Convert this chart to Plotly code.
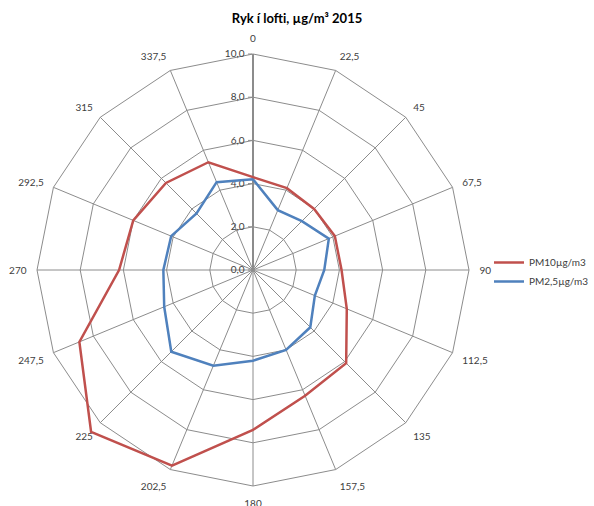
import plotly.graph_objects as go

directions = ["0", "22,5", "45", "67,5", "90", "112,5", "135", "157,5",
              "180", "202,5", "225", "247,5", "270", "292,5", "315", "337,5"]
pm10 = [4.3, 4.1, 4.0, 4.1, 4.1, 4.7, 6.1, 6.3, 7.4, 9.8, 10.6, 8.7, 6.2, 6.0, 5.7, 5.4]
pm25 = [4.2, 3.0, 3.2, 3.8, 3.3, 3.1, 3.75, 4.0, 4.2, 4.8, 5.35, 4.45, 4.15, 4.1, 3.7, 4.4]
radial_ticks = [0, 2, 4, 6, 8, 10]
radial_labels = ["0,0", "2,0", "4,0", "6,0", "8,0", "10,0"]

W, H = 594, 506
cx, cy, R = 253, 270, 216
RMAX = 10.0      # axis maximum shown by the grid
RDATA = 10.8     # range of the (invisible) data layer, so values above 10 are not clipped
R2 = R * RDATA / RMAX

def closed(v):
    return v + [v[0]]

def dom(rad):
    return dict(x=[(cx - rad) / W, (cx + rad) / W],
                y=[(H - cy - rad) / H, (H - cy + rad) / H])

fig = go.Figure()
# grid layer (needs a trace so that the subplot is drawn)
fig.add_trace(go.Scatterpolar(
    r=[0], theta=[directions[0]], mode="markers", subplot="polar",
    marker=dict(opacity=0), showlegend=False, hoverinfo="skip"))
fig.add_trace(go.Scatterpolar(
    r=closed(pm10), theta=closed(directions), mode="lines", subplot="polar2",
    name="PM10µg/m3", line=dict(color="#C0504D", width=2.5)))
fig.add_trace(go.Scatterpolar(
    r=closed(pm25), theta=closed(directions), mode="lines", subplot="polar2",
    name="PM2,5µg/m3", line=dict(color="#4F81BD", width=2.5)))

font = dict(family="Lato, Open Sans, sans-serif", size=10, color="#404040")
grid = "#8C8C8C"

angular_common = dict(direction="clockwise", rotation=90, type="category",
                      categoryorder="array", categoryarray=directions)

fig.update_layout(
    width=W, height=H,
    margin=dict(l=0, r=0, t=0, b=0),
    paper_bgcolor="white",
    font=font,
    title=dict(text="<b>Ryk í lofti, µg/m³ 2015</b>", x=0.5, xanchor="center",
               y=1 - 18 / H, yanchor="middle",
               font=dict(family="Lato, Open Sans, sans-serif", size=13, color="#000000")),
    polar=dict(
        domain=dom(R),
        gridshape="linear",
        bgcolor="white",
        angularaxis=dict(
            **angular_common,
            showline=True, linecolor=grid, linewidth=1,
            gridcolor=grid, gridwidth=1,
            ticks="outside", ticklen=8, tickcolor="rgba(0,0,0,0)", tickfont=font,
        ),
        radialaxis=dict(
            range=[0, RMAX], angle=90, tickangle=90,
            tickvals=radial_ticks, ticktext=radial_labels,
            side="counterclockwise",
            showline=True, linecolor=grid, linewidth=2,
            gridcolor=grid, gridwidth=1,
            ticks="outside", ticklen=4, tickcolor=grid,
            tickfont=font,
        ),
    ),
    polar2=dict(
        domain=dom(R2),
        gridshape="linear",
        bgcolor="rgba(0,0,0,0)",
        angularaxis=dict(
            **angular_common,
            showline=False, showgrid=False, showticklabels=False, ticks="",
        ),
        radialaxis=dict(
            range=[0, RDATA], showline=False, showgrid=False,
            showticklabels=False, ticks="",
        ),
    ),
    legend=dict(x=1, y=1 - 272 / H, xanchor="right", yanchor="middle",
                font=dict(family="Lato, Open Sans, sans-serif", size=10, color="#404040"),
                itemwidth=30, bgcolor="rgba(0,0,0,0)"),
)

fig.write_html("out.html",
               config={"displayModeBar": False},
               post_script="document.body.style.margin='0';document.body.style.overflow='hidden';")
